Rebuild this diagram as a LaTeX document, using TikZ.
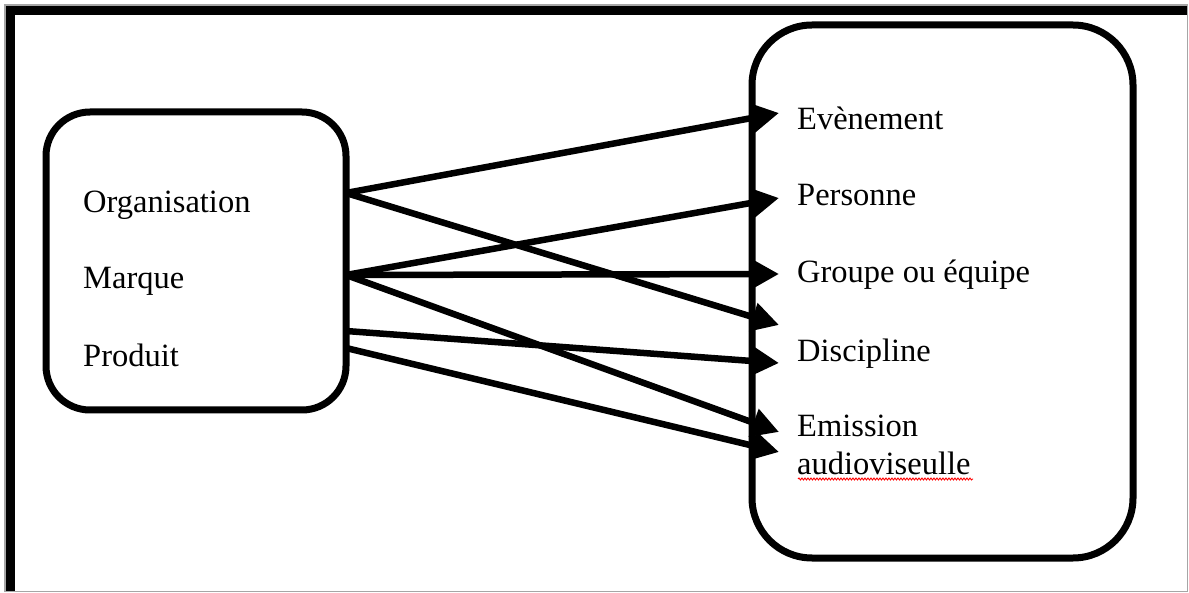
\documentclass[tikz,border=0pt]{standalone}
\usepackage{fontspec}
\setmainfont{Liberation Serif}
\usetikzlibrary{arrows.meta,decorations.pathmorphing}
\begin{document}
\begin{tikzpicture}[x=1pt,y=-1pt,
  box/.style={draw=black,line width=7pt,rounded corners=#1,inner sep=0pt},
  item/.style={anchor=base west,inner sep=0pt,font=\fontsize{32.5}{38}\selectfont},
  link/.style={line width=6.5pt,-{Triangle[length=27pt,width=28pt]}}]
  \useasboundingbox (0,0) rectangle (1189,593);
  % outer frame: thin grey outline, heavy black top and left edges
  \draw[gray!70,line width=1.5pt] (5,5) rectangle (1187.5,591.5);
  \fill[black] (6,6.5) rectangle (14.5,591);
  \fill[black] (6,6.5) rectangle (1187,15);
  % the two boxes
  \node[box=44pt,minimum width=300pt,minimum height=298pt] (src) at (196,261) {};
  \node[box=60pt,minimum width=381pt,minimum height=533pt] (dst) at (942.5,291.5) {};
  % left-hand items
  \node[item] (org) at (83,213) {Organisation};
  \node[item] (mar) at (83,289) {Marque};
  \node[item] (pro) at (83,367) {Produit};
  % right-hand items
  \node[item] (eve) at (797,130) {Evènement};
  \node[item] (per) at (797,206) {Personne};
  \node[item] (grp) at (797,283) {Groupe ou équipe};
  \node[item] (dis) at (797,362) {Discipline};
  \node[item] (emi) at (797,437) {Emission};
  \node[item] (aud) at (797,474) {audioviseulle};
  % spell-check underline
  \draw[red,line width=0.9pt,decorate,decoration={snake,amplitude=1pt,segment length=3pt}]
    (aud.base west) ++(1,5) -- ++(175,0);
  % connector end points on the box borders
  \coordinate (s1) at (346,193);
  \coordinate (s2) at (346,275);
  \coordinate (s3) at (346,331);
  \coordinate (s4) at (346,348);
  \coordinate (t1) at (779,113);
  \coordinate (t2) at (779,198);
  \coordinate (t3) at (779,274);
  \coordinate (t4) at (779,325);
  \coordinate (t5) at (779,363);
  \coordinate (t6) at (779,432);
  \coordinate (t7) at (779,452);
  % connectors
  \draw[link] (s1) -- (t1);
  \draw[link] (s1) -- (t4);
  \draw[link] (s2) -- (t2);
  \draw[link] (s2) -- (t3);
  \draw[link] (s2) -- (t6);
  \draw[link] (s3) -- (t5);
  \draw[link] (s4) -- (t7);
\end{tikzpicture}
\end{document}
